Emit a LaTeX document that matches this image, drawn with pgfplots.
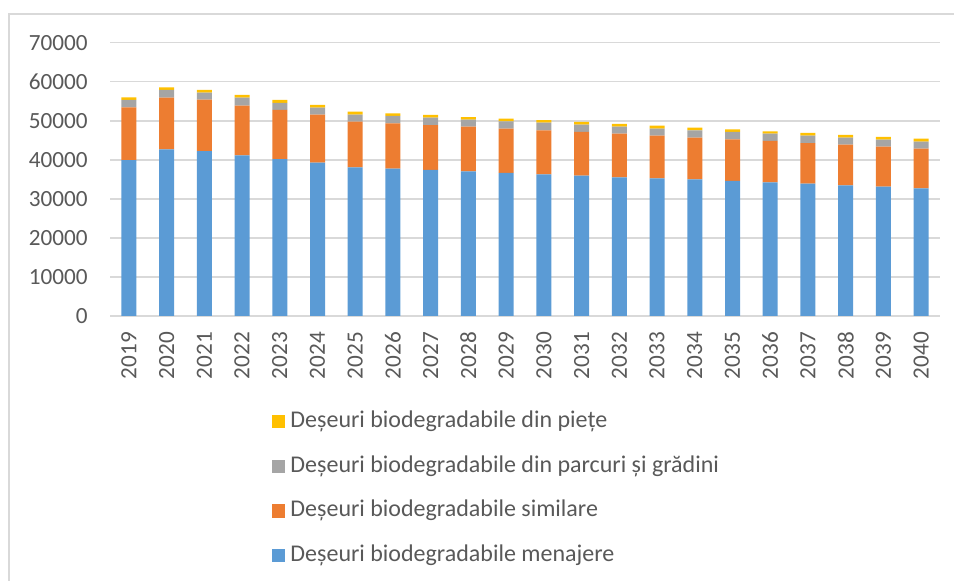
\documentclass[border=0pt]{standalone}
\usepackage{pgfplots}
\pgfplotsset{compat=1.18}
\usepackage{pgfplotstable}
\usepackage{fontspec}
\setmainfont{Carlito}
\definecolor{cBlue}{HTML}{5B9BD5}
\definecolor{cOrange}{HTML}{ED7D31}
\definecolor{cGray}{HTML}{A5A5A5}
\definecolor{cYellow}{HTML}{FFC000}
\definecolor{cText}{HTML}{595959}
\definecolor{cGrid}{HTML}{D9D9D9}

\pgfplotstableread{
x menajere similare parcuri piete
0  39900 13560 1870 690
1  42700 13220 1970 690
2  42260 13150 1790 690
3  41160 12710 2050 690
4  40210 12560 1790 770
5  39270 12290 1800 690
6  38090 11680 1790 770
7  37730 11630 1870 690
8  37400 11520 1870 700
9  37060 11430 1790 690
10 36630 11350 1890 670
11 36300 11270 1940 690
12 35940 11190 1870 690
13 35530 11170 1790 690
14 35270 10910 1800 770
15 35010 10660 1900 660
16 34580 10680 1870 690
17 34250 10580 1870 610
18 33890 10420 1870 700
19 33480 10400 1790 690
20 33120 10250 1790 690
21 32710 10140 1800 770
}\datatable

\begin{document}
\begin{tikzpicture}
\path[use as bounding box] (0,0) rectangle (477pt,-290.5pt);
\draw[cGrid, line width=1pt] (4.5pt,-290.5pt) -- (4.5pt,-6.85pt) -- (477pt,-6.85pt);
\begin{axis}[
  at={(55pt,-158pt)}, anchor=south west,
  scale only axis, width=415pt, height=136.65pt,
  ybar stacked, bar width=7.5pt,
  xmin=-0.5, xmax=21.5, ymin=0, ymax=70000,
  axis x line*=bottom, axis y line*=left,
  x axis line style={cGrid, line width=0.8pt, -},
  y axis line style={draw=none},
  xtick={0,...,21},
  xticklabels={2019,2020,2021,2022,2023,2024,2025,2026,2027,2028,2029,2030,2031,2032,2033,2034,2035,2036,2037,2038,2039,2040},
  ytick={0,10000,20000,30000,40000,50000,60000,70000},
  yticklabels={0,10000,20000,30000,40000,50000,60000,70000},
  scaled y ticks=false,
  major tick length=0pt,
  ymajorgrids, grid style={cGrid, line width=0.75pt},
  tick label style={font=\fontsize{11.6}{14}\selectfont, text=cText},
  yticklabel style={anchor=east, inner sep=0pt, xshift=-11pt},
  xticklabel style={rotate=90, anchor=east, inner sep=0pt, xshift=-7.85pt},
  legend style={draw=none, at={(axis description cs:0.195,-0.345)}, anchor=north west,
    font=\fontsize{12}{14}\selectfont, text=cText,
    inner sep=0pt, row sep=11.6pt,
    nodes={inner sep=0pt, text height=8.3pt, text depth=2.5pt},
    /tikz/every odd column/.append style={column sep=2.5pt}},
  legend cell align=left,
  reverse legend,
  legend image code/.code={\fill[#1] (0pt,-3.3pt) rectangle (6.6pt,3.3pt);},
]
\addplot[fill=cBlue, draw=none] table[x=x, y=menajere] {\datatable};
\addlegendentry{Deșeuri biodegradabile menajere}
\addplot[fill=cOrange, draw=none] table[x=x, y=similare] {\datatable};
\addlegendentry{Deșeuri biodegradabile similare}
\addplot[fill=cGray, draw=none] table[x=x, y=parcuri] {\datatable};
\addlegendentry{Deșeuri biodegradabile din parcuri și grădini}
\addplot[fill=cYellow, draw=none] table[x=x, y=piete] {\datatable};
\addlegendentry{Deșeuri biodegradabile din piețe}
\end{axis}
\end{tikzpicture}
\end{document}
